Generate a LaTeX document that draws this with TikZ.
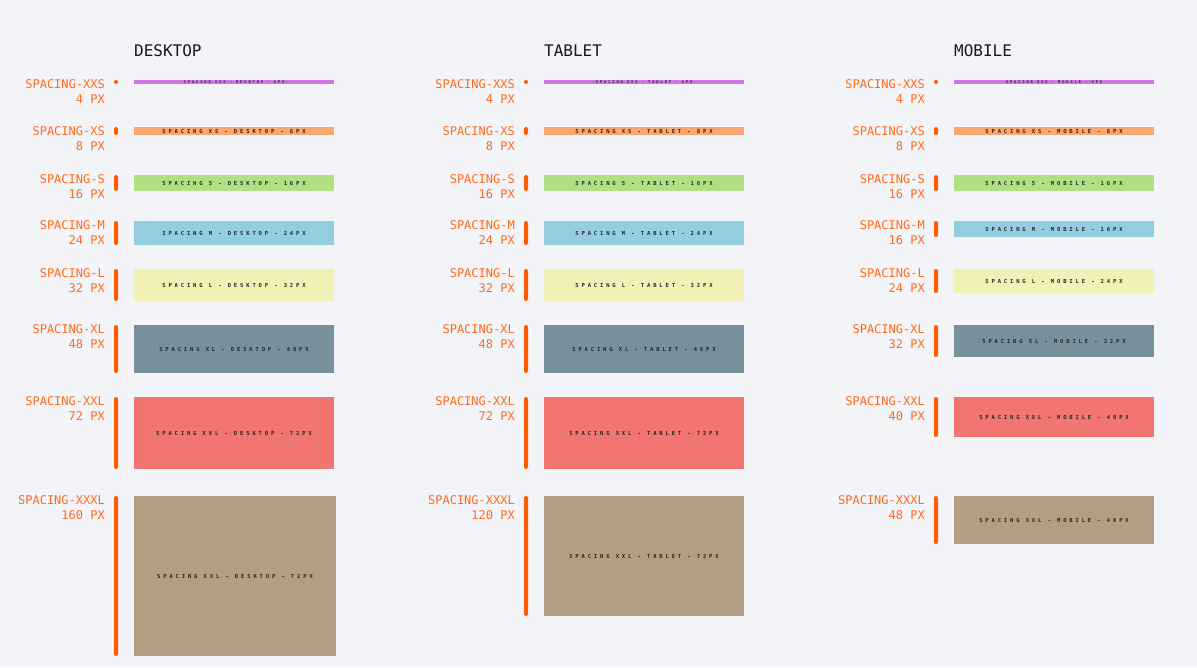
\documentclass[tikz,border=0pt]{standalone}
\usepackage{fontspec}
\newfontfamily\monofont{DejaVu Sans Mono}
\newfontfamily\barfont[LetterSpace=52]{DejaVu Sans Mono}
\definecolor{bg}{HTML}{F3F4F8}
\definecolor{lblc}{HTML}{FF6A1C}
\definecolor{indc}{HTML}{FF5C00}
\definecolor{cxxs}{HTML}{D077E6}
\definecolor{cxs}{HTML}{F9A66F}
\definecolor{cs}{HTML}{B0DF84}
\definecolor{cm}{HTML}{93CDDF}
\definecolor{cl}{HTML}{F1F0B6}
\definecolor{cxl}{HTML}{78909C}
\definecolor{cxxl}{HTML}{F17570}
\definecolor{cxxxl}{HTML}{B59C84}
\definecolor{bartext}{HTML}{262626}
\tikzset{
  bar/.style={draw=none,inner sep=0pt,text=bartext,font=\barfont\bfseries\fontsize{5.5}{6}\selectfont},
  sxxs/.style={fill=cxxs,font=\barfont\bfseries\fontsize{3.7}{4}\selectfont},
  sxs/.style={fill=cxs},
  ss/.style={fill=cs},
  sm/.style={fill=cm},
  sl/.style={fill=cl},
  sxl/.style={fill=cxl},
  sxxl/.style={fill=cxxl},
  sxxxl/.style={fill=cxxxl},
  lbl/.style={inner sep=0pt,anchor=base east,text=lblc,font=\monofont\fontsize{12}{14}\selectfont},
  ttl/.style={inner sep=0pt,anchor=base west,text=black!90,font=\monofont\fontsize{16}{18}\selectfont},
  ind/.style={fill=indc}
}
\newcommand{\specrow}[9]{%
  \node[bar,#8,minimum width=#9,minimum height=#4] (#2) at ({134+#1+#9/2},{#3+#4/2}) {#7};
  \node[lbl] (#2-a) at ({105+#1},{#3+8}) {#5};
  \node[lbl] (#2-b) at ({105+#1},{#3+23}) {#6};
  \fill[ind,rounded corners=2] ({114+#1},#3) rectangle ({118+#1},{#3+#4});
}
\begin{document}
\begin{tikzpicture}[x=1pt,y=-1pt]
\fill[bg] (0,0) rectangle (1197,667);
\useasboundingbox (0,0) rectangle (1197,667);
% titles
\node[ttl] (tdesk) at (134,56) {DESKTOP};
\node[ttl] (ttab) at (544,56) {TABLET};
\node[ttl] (tmob) at (954,56) {MOBILE};
% desktop
\specrow{0}{dxxs}{80}{4}{SPACING-XXS}{4 PX}{SPACING XXS - DESKTOP - 4PX}{sxxs}{200}
\specrow{0}{dxs}{127}{8}{SPACING-XS}{8 PX}{SPACING XS - DESKTOP - 8PX}{sxs}{200}
\specrow{0}{ds}{175}{16}{SPACING-S}{16 PX}{SPACING S - DESKTOP - 16PX}{ss}{200}
\specrow{0}{dm}{221}{24}{SPACING-M}{24 PX}{SPACING M - DESKTOP - 24PX}{sm}{200}
\specrow{0}{dl}{269}{32}{SPACING-L}{32 PX}{SPACING L - DESKTOP - 32PX}{sl}{200}
\specrow{0}{dxl}{325}{48}{SPACING-XL}{48 PX}{SPACING XL - DESKTOP - 48PX}{sxl}{200}
\specrow{0}{dxxl}{397}{72}{SPACING-XXL}{72 PX}{SPACING XXL - DESKTOP - 72PX}{sxxl}{200}
\specrow{0}{dxxxl}{496}{160}{SPACING-XXXL}{160 PX}{SPACING XXL - DESKTOP - 72PX}{sxxxl}{202}
% tablet
\specrow{410}{txxs}{80}{4}{SPACING-XXS}{4 PX}{SPACING XXS - TABLET - 4PX}{sxxs}{200}
\specrow{410}{txs}{127}{8}{SPACING-XS}{8 PX}{SPACING XS - TABLET - 8PX}{sxs}{200}
\specrow{410}{ts}{175}{16}{SPACING-S}{16 PX}{SPACING S - TABLET - 16PX}{ss}{200}
\specrow{410}{tm}{221}{24}{SPACING-M}{24 PX}{SPACING M - TABLET - 24PX}{sm}{200}
\specrow{410}{tl}{269}{32}{SPACING-L}{32 PX}{SPACING L - TABLET - 32PX}{sl}{200}
\specrow{410}{txl}{325}{48}{SPACING-XL}{48 PX}{SPACING XL - TABLET - 48PX}{sxl}{200}
\specrow{410}{txxl}{397}{72}{SPACING-XXL}{72 PX}{SPACING XXL - TABLET - 72PX}{sxxl}{200}
\specrow{410}{txxxl}{496}{120}{SPACING-XXXL}{120 PX}{SPACING XXL - TABLET - 72PX}{sxxxl}{200}
% mobile
\specrow{820}{mxxs}{80}{4}{SPACING-XXS}{4 PX}{SPACING XXS - MOBILE - 4PX}{sxxs}{200}
\specrow{820}{mxs}{127}{8}{SPACING-XS}{8 PX}{SPACING XS - MOBILE - 8PX}{sxs}{200}
\specrow{820}{ms}{175}{16}{SPACING-S}{16 PX}{SPACING S - MOBILE - 16PX}{ss}{200}
\specrow{820}{mm}{221}{16}{SPACING-M}{16 PX}{SPACING M - MOBILE - 16PX}{sm}{200}
\specrow{820}{ml}{269}{24}{SPACING-L}{24 PX}{SPACING L - MOBILE - 24PX}{sl}{200}
\specrow{820}{mxl}{325}{32}{SPACING-XL}{32 PX}{SPACING XL - MOBILE - 32PX}{sxl}{200}
\specrow{820}{mxxl}{397}{40}{SPACING-XXL}{40 PX}{SPACING XXL - MOBILE - 40PX}{sxxl}{200}
\specrow{820}{mxxxl}{496}{48}{SPACING-XXXL}{48 PX}{SPACING XXL - MOBILE - 40PX}{sxxxl}{200}
\end{tikzpicture}
\end{document}
